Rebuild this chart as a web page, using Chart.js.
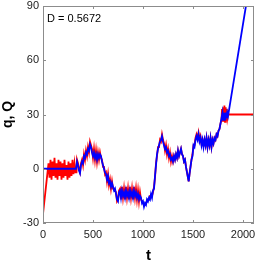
<!DOCTYPE html>
<html>
<head>
<meta charset="utf-8">
<script src="https://cdn.jsdelivr.net/npm/chart.js@4"></script>
<style>
body { margin: 0; background: #fff; }
</style>
</head>
<body>
<canvas id="myChart" width="262" height="262"></canvas>
<script>
// tick values
const xTicks = [0, 500, 1000, 1500, 2000];
const yTicks = [-30, 0, 30, 60, 90];

// blue series Q(t)
const tQ = [0, 330, 340, 350, 360, 370, 380, 390, 400, 410, 420, 430, 440, 450, 460, 470, 480, 490, 500, 510, 520, 530, 540, 550, 560, 570, 580, 590, 600, 610, 620, 630, 640, 650, 660, 670, 680, 690, 700, 710, 720, 730, 740, 750, 760, 770, 780, 790, 800, 810, 820, 830, 840, 850, 860, 870, 880, 890, 900, 910, 920, 930, 940, 950, 960, 970, 980, 990, 1000, 1010, 1020, 1030, 1040, 1050, 1060, 1070, 1080, 1090, 1100, 1110, 1120, 1130, 1140, 1150, 1160, 1170, 1180, 1190, 1200, 1210, 1220, 1230, 1240, 1250, 1260, 1270, 1280, 1290, 1300, 1310, 1320, 1330, 1340, 1350, 1360, 1370, 1380, 1390, 1400, 1410, 1420, 1430, 1440, 1450, 1457, 1465, 1475, 1485, 1495, 1505, 1515, 1525, 1535, 1545, 1555, 1565, 1575, 1585, 1595, 1605, 1615, 1625, 1635, 1645, 1655, 1665, 1675, 1685, 1695, 1705, 1715, 1725, 1735, 1745, 1755, 1765, 1775, 1785, 1795, 1800, 1806, 1812, 1818, 1824, 1830, 1836, 1842, 1850, 2100];
const Q = [0, 0, 4, 2, -1, -2.5, 2, 4, 3, 7, 6, 9, 8, 11, 10, 13.5, 12, 9, 7, 9, 6, 8, 5, 8, 6, 8, 7, 4, 2, 0, -2, -3, -6, -4, -8, -7, -10, -8, -10, -12, -11, -14, -17, -18, -13, -12, -16, -12, -15, -13, -16, -12, -15, -13, -16, -12, -15, -13, -16, -12, -15, -13, -16, -14, -17, -15, -16, -19, -18, -21, -19, -20, -17, -18, -16, -17, -14, -16, -12, -11, -4, 2, 8, 11, 13, 15, 16, 18, 15, 13, 11, 12, 9, 10, 7, 8, 5, 6, 4, 7, 5, 8, 6, 10, 7, 9, 11, 8, 7, 4, 5, 1, -2, -5, -7, -3, 1, 5, 7, 13, 12, 16, 18, 16, 19, 15, 17, 13, 16, 12, 16, 13, 17, 12, 16, 13, 17, 12, 16, 14, 17, 16, 19, 18, 21, 22, 25, 28, 31, 27, 31, 27, 31, 27, 31, 28, 31, 29, 114];

// red series q(t)
const tq = [0, 55, 65, 75, 85, 95, 105, 115, 125, 135, 145, 155, 165, 175, 185, 195, 205, 215, 225, 235, 245, 255, 265, 275, 285, 295, 305, 315, 325, 335, 340, 350, 360, 370, 380, 390, 400, 410, 420, 430, 440, 450, 460, 470, 480, 490, 500, 510, 520, 530, 540, 550, 560, 570, 580, 590, 600, 610, 620, 630, 640, 650, 660, 670, 680, 690, 700, 710, 720, 730, 740, 750, 760, 770, 780, 790, 800, 810, 820, 830, 840, 850, 860, 870, 880, 890, 900, 910, 920, 930, 940, 950, 960, 970, 980, 990, 1000, 1010, 1020, 1030, 1040, 1050, 1060, 1070, 1080, 1090, 1100, 1110, 1120, 1130, 1140, 1150, 1160, 1170, 1180, 1190, 1200, 1210, 1220, 1230, 1240, 1250, 1260, 1270, 1280, 1290, 1300, 1310, 1320, 1330, 1340, 1350, 1360, 1370, 1380, 1390, 1400, 1410, 1420, 1430, 1440, 1450, 1457, 1465, 1475, 1485, 1495, 1505, 1515, 1525, 1535, 1545, 1555, 1565, 1575, 1585, 1595, 1605, 1615, 1625, 1635, 1645, 1655, 1665, 1675, 1685, 1695, 1705, 1715, 1725, 1735, 1745, 1755, 1765, 1775, 1785, 1790, 1796, 1802, 1808, 1814, 1820, 1826, 1832, 1838, 1844, 1850, 2100];
const q = [-25, 3, -5, 5, -6, 4, -4, 6, -5, 3, -6, 5, -4, 4, -6, 3, -5, 5, -4, 2, -6, 4, -5, 3, -4, 5, -3, 3, -2, -2, 5, 3, 0, -2, 3, 5, 2, 8, 5, 10, 7, 12, 9, 15, 13, 11, 6, 11, 5, 10, 4, 9, 5, 9, 6, 5, 1, 1, -3, -2, -7, -3, -9, -6, -11, -7, -11, -11, -12, -13, -18, -17, -12, -11, -17, -10, -16, -11, -17, -10, -16, -11, -17, -10, -16, -11, -17, -10, -16, -11, -17, -12, -18, -13, -17, -18, -19, -20, -20, -19, -18, -17, -17, -15, -15, -15, -13, -10, -5, 3, 7, 12, 12, 16, 15, 19, 16, 14, 10, 13, 8, 11, 6, 9, 4, 7, 4, 7, 5, 8, 6, 10, 7, 9, 11, 8, 7, 4, 5, 1, -2, -5, -7, -3, 1, 5, 8, 13, 13, 17, 19, 17, 20, 16, 18, 14, 16, 13, 16, 13, 17, 12, 16, 13, 17, 12, 16, 14, 17, 16, 19, 18, 21, 22, 25, 27, 33, 26, 34, 26, 35, 26, 34, 27, 33, 28, 30, 30];

const labelFont = { family: "'Liberation Sans', Arial, sans-serif", size: 11 };

// MATLAB-like box with inward ticks, plus the D annotation
const framePlugin = {
    id: "frame",
    afterDatasetsDraw(chart) {
        const c = chart.ctx;
        const a = chart.chartArea;
        const xs = chart.scales.x;
        const ys = chart.scales.y;
        c.save();
        c.strokeStyle = "#8c8c8c";
        c.lineWidth = 1;
        c.strokeRect(a.left + 0.5, a.top + 0.5, a.right - a.left - 1, a.bottom - a.top - 1);
        c.beginPath();
        xTicks.forEach(function (v) {
            const px = Math.round(xs.getPixelForValue(v)) + 0.5;
            c.moveTo(px, a.bottom); c.lineTo(px, a.bottom - 3);
            c.moveTo(px, a.top); c.lineTo(px, a.top + 3);
        });
        yTicks.forEach(function (v) {
            const py = Math.round(ys.getPixelForValue(v)) + 0.5;
            c.moveTo(a.left, py); c.lineTo(a.left + 3, py);
            c.moveTo(a.right, py); c.lineTo(a.right - 3, py);
        });
        c.stroke();
        c.fillStyle = "#000";
        c.font = "11px 'Liberation Sans', Arial, sans-serif";
        c.textBaseline = "top";
        c.fillText("D = 0.5672", a.left + 4, a.top + 7);
        c.restore();
    }
};

const ctx = document.getElementById("myChart");
const myChart = new Chart(ctx, {
    type: "line",
    data: {
        datasets: [
            {
                label: "Q",
                data: tQ.map((t, i) => ({ x: t, y: Q[i] })),
                borderColor: "#0000ff",
                borderWidth: 1.8,
                pointRadius: 0,
                order: 1
            },
            {
                label: "q",
                data: tq.map((t, i) => ({ x: t, y: q[i] })),
                borderColor: "#ff0000",
                borderWidth: 1.8,
                pointRadius: 0,
                order: 2
            }
        ]
    },
    options: {
        responsive: false,
        animation: false,
        layout: { padding: { left: 0, top: 6, right: 8, bottom: 0 } },
        plugins: { legend: { display: false }, tooltip: { enabled: false } },
        scales: {
            x: {
                type: "linear",
                min: 0,
                max: 2110,
                afterBuildTicks: (s) => { s.ticks = xTicks.map((v) => ({ value: v })); },
                afterFit: (s) => { s.height = 39; s.paddingLeft = 0; s.paddingRight = 0; },
                grid: { display: false, drawTicks: false },
                border: { display: false },
                ticks: { font: labelFont, color: "#222", padding: 5, maxRotation: 0, autoSkip: false, callback: (v) => String(v) },
                title: { display: true, text: "t", color: "#000", font: { family: "'Liberation Sans', Arial, sans-serif", size: 15, weight: "bold" }, padding: { top: 0, bottom: -3 } }
            },
            y: {
                min: -30,
                max: 90,
                afterBuildTicks: (s) => { s.ticks = yTicks.map((v) => ({ value: v })); },
                afterFit: (s) => { s.width = 43; s.paddingTop = 0; s.paddingBottom = 0; },
                grid: { display: false, drawTicks: false },
                border: { display: false },
                ticks: { font: labelFont, color: "#222", padding: 4, autoSkip: false, callback: (v) => String(v) },
                title: { display: true, text: "q, Q", color: "#000", font: { family: "'Liberation Sans', Arial, sans-serif", size: 14, weight: "bold" }, padding: 0 }
            }
        }
    },
    plugins: [framePlugin]
});
</script>
</body>
</html>
